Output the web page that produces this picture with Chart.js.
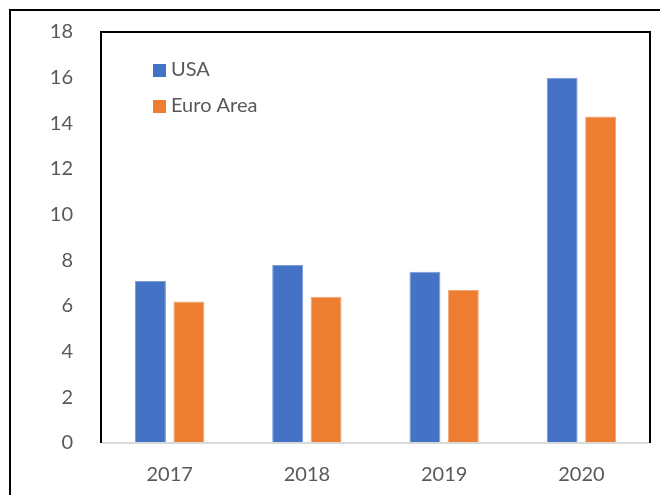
<!DOCTYPE html>
<html>
<head>
<meta charset="utf-8">
<script src="https://cdn.jsdelivr.net/npm/chart.js@4.4.0/dist/chart.umd.min.js"></script>
<style>
  html, body { margin: 0; padding: 0; background: #fff; }
  #wrap { width: 660px; height: 495px; position: relative; }
</style>
</head>
<body>
<div id="wrap"><canvas id="grafico"></canvas></div>
<script>
const anni = ['2017', '2018', '2019', '2020'];
const valoriUSA = [7.1, 7.8, 7.5, 16.0];
const valoriEuro = [6.2, 6.4, 6.7, 14.3];
const tickY = [0, 2, 4, 6, 8, 10, 12, 14, 16, 18];

const BLU = '#4472C4';
const ARANCIO = '#ED7D31';
const GRIGIO = '#595959';
const FONT = 'Lato, "Open Sans", sans-serif';

// cornice esterna + bordo dell'area del grafico
const cornice = {
    id: 'cornice',
    afterDraw(chart) {
        const c = chart.ctx;
        const a = chart.chartArea;
        c.save();
        c.strokeStyle = '#000';
        c.lineWidth = 2;
        c.beginPath();
        c.moveTo(10, 495);
        c.lineTo(10, 10);
        c.lineTo(660, 10);
        c.stroke();

        c.beginPath();
        c.moveTo(a.left, a.bottom);
        c.lineTo(a.left, a.top);
        c.lineTo(a.right, a.top);
        c.lineTo(a.right, a.bottom);
        c.stroke();

        c.strokeStyle = '#d9d9d9';
        c.lineWidth = 2;
        c.beginPath();
        c.moveTo(a.left + 1, a.bottom);
        c.lineTo(a.right - 1, a.bottom);
        c.stroke();
        c.restore();
    }
};

// legenda dentro l'area del grafico
const legenda = {
    id: 'legenda',
    afterDraw(chart) {
        const c = chart.ctx;
        c.save();
        c.font = '20px ' + FONT;
        c.textBaseline = 'middle';
        chart.data.datasets.forEach((ds, i) => {
            const y = 70 + i * 36;
            c.fillStyle = ds.backgroundColor;
            c.fillRect(153, y - 6, 13, 13);
            c.fillStyle = GRIGIO;
            c.fillText(ds.label, 171, y);
        });
        c.restore();
    }
};

const ctx = document.getElementById('grafico').getContext('2d');
new Chart(ctx, {
    type: 'bar',
    data: {
        labels: anni,
        datasets: [
            {
                label: 'USA',
                data: valoriUSA,
                backgroundColor: BLU,
                borderColor: '#7b9bd6',
                borderWidth: { top: 1, left: 1, right: 1, bottom: 0 }
            },
            {
                label: 'Euro Area',
                data: valoriEuro,
                backgroundColor: ARANCIO,
                borderColor: '#f3a677',
                borderWidth: { top: 1, left: 1, right: 1, bottom: 0 }
            }
        ]
    },
    options: {
        responsive: true,
        maintainAspectRatio: false,
        animation: false,
        categoryPercentage: 0.56,
        barPercentage: 0.805,
        layout: { padding: { left: 0, top: 32, right: 10, bottom: 0 } },
        plugins: {
            legend: { display: false },
            tooltip: { enabled: false }
        },
        scales: {
            x: {
                grid: { display: false, drawTicks: false },
                border: { display: false },
                ticks: {
                    color: GRIGIO,
                    font: { family: FONT, size: 20 },
                    padding: 20
                },
                afterFit(scale) {
                    scale.height = 52;
                    scale.paddingLeft = 0;
                    scale.paddingRight = 0;
                }
            },
            y: {
                min: 0,
                max: 18,
                grid: { display: false, drawTicks: false },
                border: { display: false },
                afterBuildTicks(scale) {
                    scale.ticks = tickY.map(v => ({ value: v }));
                },
                ticks: {
                    color: GRIGIO,
                    font: { family: FONT, size: 20 },
                    padding: 28
                },
                afterFit(scale) {
                    scale.width = 101;
                    scale.paddingTop = 0;
                    scale.paddingBottom = 0;
                }
            }
        }
    },
    plugins: [cornice, legenda]
});
</script>
</body>
</html>
